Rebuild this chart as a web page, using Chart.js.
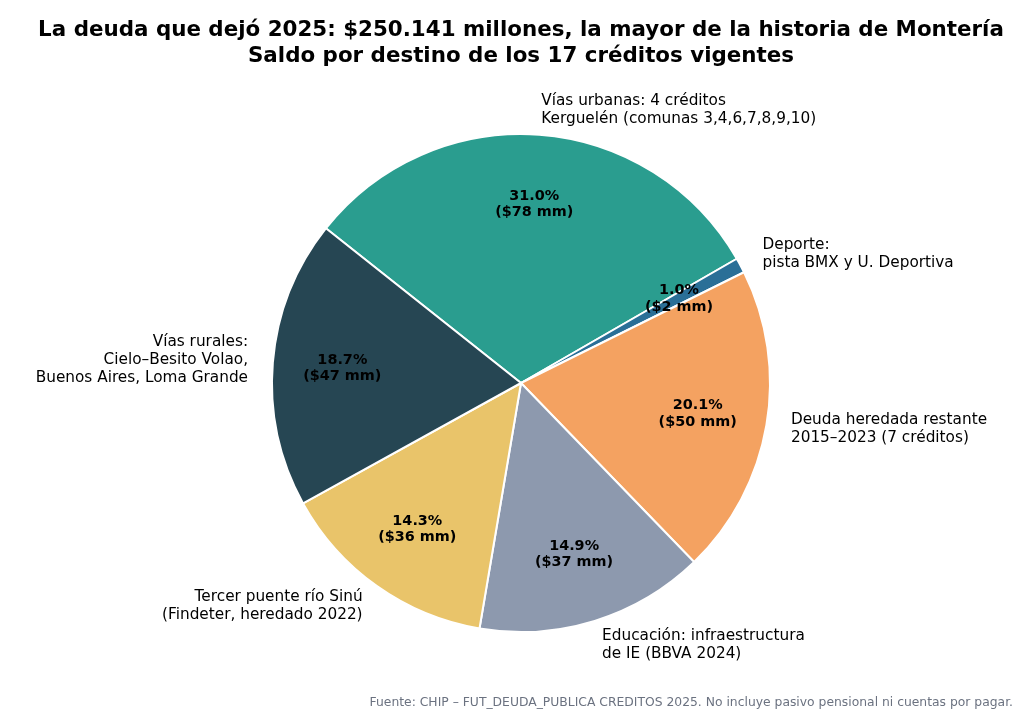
<!DOCTYPE html>
<html>
<head>
<meta charset="utf-8">
<script src="https://cdn.jsdelivr.net/npm/chart.js@4"></script>
<style>
  html, body { margin: 0; padding: 0; background: #fff; }
  #wrap { width: 1024px; height: 714px; position: relative; }
</style>
</head>
<body>
<div id="wrap"><canvas id="pie" width="1024" height="714"></canvas></div>
<script>
// slices in clockwise order, starting at the top-left edge of "Vías urbanas"
const labels = [
    ["Vías urbanas: 4 créditos", "Kerguelén (comunas 3,4,6,7,8,9,10)"],
    ["Deporte:", "pista BMX y U. Deportiva"],
    ["Deuda heredada restante", "2015–2023 (7 créditos)"],
    ["Educación: infraestructura", "de IE (BBVA 2024)"],
    ["Tercer puente río Sinú", "(Findeter, heredado 2022)"],
    ["Vías rurales:", "Cielo–Besito Volao,", "Buenos Aires, Loma Grande"]
];
// saldo en miles de millones de pesos
const saldo = [77.59, 2.45, 50.28, 37.27, 35.77, 46.78];
const colors = ["#2a9d8f", "#2a6f97", "#f4a261", "#8d99ae", "#e9c46a", "#264653"];

const titleLines = [
    "La deuda que dejó 2025: $250.141 millones, la mayor de la historia de Montería",
    "Saldo por destino de los 17 créditos vigentes"
];
const footnote = "Fuente: CHIP – FUT_DEUDA_PUBLICA CREDITOS 2025. No incluye pasivo pensional ni cuentas por pagar.";

const total = saldo.reduce((a, b) => a + b, 0);

// draws title, slice labels and footnote
const labelPlugin = {
    id: 'pieLabels',
    afterDraw(chart) {
        const ctx = chart.ctx;
        const meta = chart.getDatasetMeta(0);
        ctx.save();

        // title
        ctx.fillStyle = "#000";
        ctx.textAlign = "center";
        ctx.textBaseline = "middle";
        ctx.font = "bold 21.4px 'DejaVu Sans'";
        ctx.fillText(titleLines[0], 521, 30);
        ctx.fillText(titleLines[1], 521, 56);

        meta.data.forEach((arc, i) => {
            const mid = (arc.startAngle + arc.endAngle) / 2;
            const r = arc.outerRadius;
            const cx = Math.cos(mid), cy = Math.sin(mid);

            // percentage inside
            const pct = (saldo[i] / total * 100).toFixed(1) + "%";
            const amt = "($" + Math.round(saldo[i]) + " mm)";
            ctx.font = "bold 14.4px 'DejaVu Sans'";
            ctx.textAlign = "center";
            ctx.fillStyle = "#000";
            const px = arc.x + cx * r * 0.72;
            const py = arc.y + cy * r * 0.72;
            ctx.fillText(pct, px, py - 8);
            ctx.fillText(amt, px, py + 8.5);

            // outer label
            const lx = arc.x + cx * r * 1.1;
            const ly = arc.y + cy * r * 1.1;
            const lines = labels[i];
            ctx.font = "15.3px 'DejaVu Sans'";
            ctx.textAlign = cx > 0 ? "left" : "right";
            const lh = 18;
            const top = ly - (lines.length - 1) * lh / 2;
            lines.forEach((t, k) => ctx.fillText(t, lx, top + k * lh));
        });

        // footnote
        ctx.font = "12.35px 'DejaVu Sans'";
        ctx.fillStyle = "#6b7280";
        ctx.textAlign = "right";
        ctx.fillText(footnote, 1013, 703);
        ctx.restore();
    }
};

new Chart(document.getElementById('pie'), {
    type: 'pie',
    data: {
        labels: labels,
        datasets: [{
            data: saldo,
            backgroundColor: colors,
            borderColor: "#ffffff",
            borderWidth: 2
        }]
    },
    options: {
        responsive: false,
        animation: false,
        rotation: -51.6,
        layout: { padding: { left: 271, right: 253, top: 133, bottom: 81 } },
        plugins: {
            legend: { display: false },
            tooltip: { enabled: false },
            title: { display: false }
        }
    },
    plugins: [labelPlugin]
});
</script>
</body>
</html>
